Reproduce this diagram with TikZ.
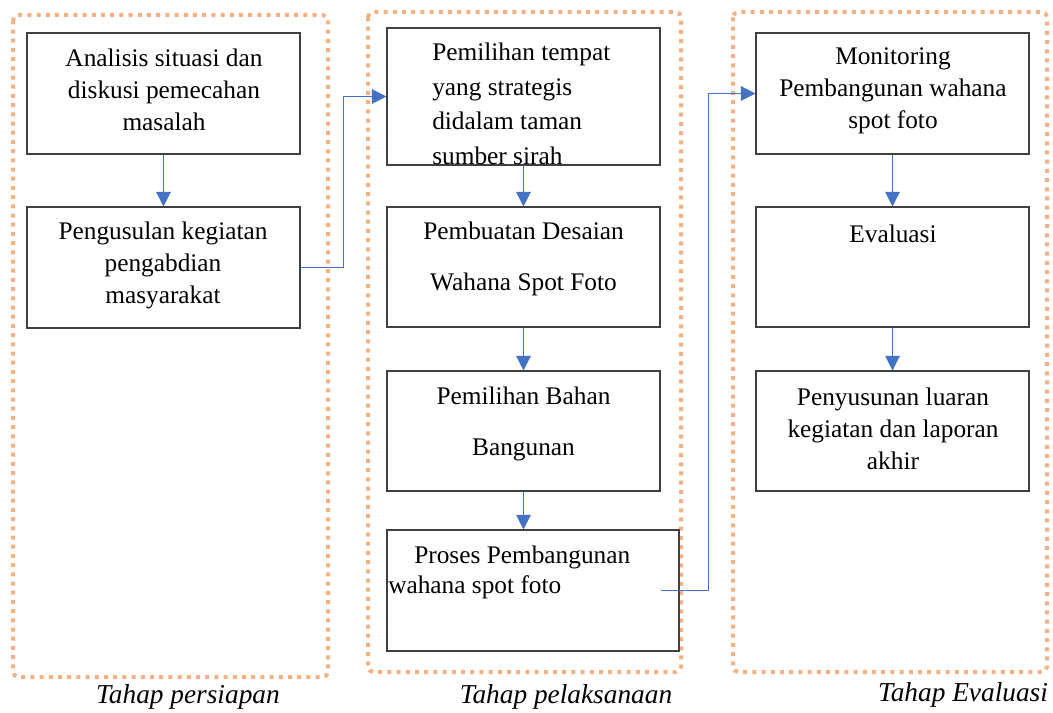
\documentclass[tikz,border=0pt]{standalone}
\usepackage{fontspec}
\setmainfont{Liberation Serif}
\usetikzlibrary{positioning,arrows.meta}
\definecolor{framecol}{HTML}{F4B183}
\definecolor{linkcol}{HTML}{4472C4}

\begin{document}
\begin{tikzpicture}[x=0.75pt,y=-0.75pt,
    box/.style={rectangle, draw=black!75, line width=0.8pt, minimum width=204.75pt, minimum height=90.75pt, inner sep=0pt},
    txt/.style={align=center, inner sep=0pt, font=\fontsize{19}{24}\selectfont},
    frame/.style={draw=framecol, line width=3pt, dash pattern=on 3pt off 3.9pt, rounded corners=4pt},
    conn/.style={draw=linkcol, line width=0.9pt, -{Triangle[length=11pt,width=11pt]}},
    stage/.style={inner sep=0pt, font=\fontsize{20.5}{24}\selectfont\itshape}]
    \useasboundingbox (0,0) rectangle (1053,713);

    % tahap frames
    \draw[frame] (13,15) rectangle (328,677);
    \draw[frame] (368,12) rectangle (681,672);
    \draw[frame] (733,12) rectangle (1047,672);

    % persiapan
    \node[box] (anl) at (163.5,93.5) {};
    \node[box] (usul) at (163.5,267.5) {};
    \node[txt] (anl-t) at (164,90) {Analisis situasi dan\\diskusi pemecahan\\masalah};
    \node[txt] (usul-t) at (163,265) {Pengusulan kegiatan\\pengabdian\\masyarakat};

    % pelaksanaan
    \node[box, minimum height=102.75pt] (pilih) at (523.5,96.5) {};
    \node[box, minimum height=90pt] (desain) at (523.5,267) {};
    \node[box, minimum height=90pt] (bahan) at (523.5,431) {};
    \node[box, minimum width=219pt] (proses) at (533,590.5) {};
    \node[txt, align=left, anchor=west, font=\fontsize{19}{26}\selectfont] (pilih-t) at (432,104) {Pemilihan tempat\\yang strategis\\didalam taman\\sumber sirah};
    \node[txt, font=\fontsize{19}{38}\selectfont] (desain-t) at (523.5,259) {Pembuatan Desaian\\Wahana Spot Foto};
    \node[txt, font=\fontsize{19}{38}\selectfont] (bahan-t) at (523.5,424) {Pemilihan Bahan\\Bangunan};
    \node[txt, align=left, anchor=west, font=\fontsize{19}{23}\selectfont] (proses-t) at (388,572.5) {\hspace*{19.5pt}Proses Pembangunan\\wahana spot foto};

    % evaluasi
    \node[box] (moni) at (892.5,93.5) {};
    \node[box, minimum height=90pt] (eval) at (892.5,267) {};
    \node[box, minimum height=90pt] (luaran) at (892.5,431) {};
    \node[txt] (moni-t) at (893,91) {Monitoring\\Pembangunan wahana\\spot foto};
    \node[txt] (eval-t) at (893,234) {Evaluasi};
    \node[txt] (luaran-t) at (893,429) {Penyusunan luaran\\kegiatan dan laporan\\akhir};

    % alur
    \draw[conn] (anl.south) -- (usul.north);
    \draw[conn] (usul.east) -- ++(43,0) |- (pilih.west);
    \draw[conn] (pilih.south) -- (desain.north);
    \draw[conn] (desain.south) -- (bahan.north);
    \draw[conn] (bahan.south) -- (proses.north -| bahan.south);
    \draw[conn] ([xshift=-14.25pt]proses.east) -- ++(48,0) |- (moni.west);
    \draw[conn] (moni.south) -- (eval.north);
    \draw[conn] (eval.south) -- (luaran.north);

    % labels
    \node[stage] (persiapan) at (188,697) {Tahap persiapan};
    \node[stage] (pelaksanaan) at (566,697) {Tahap pelaksanaan};
    \node[stage] (evaluasi) at (963,695) {Tahap Evaluasi};
\end{tikzpicture}
\end{document}
